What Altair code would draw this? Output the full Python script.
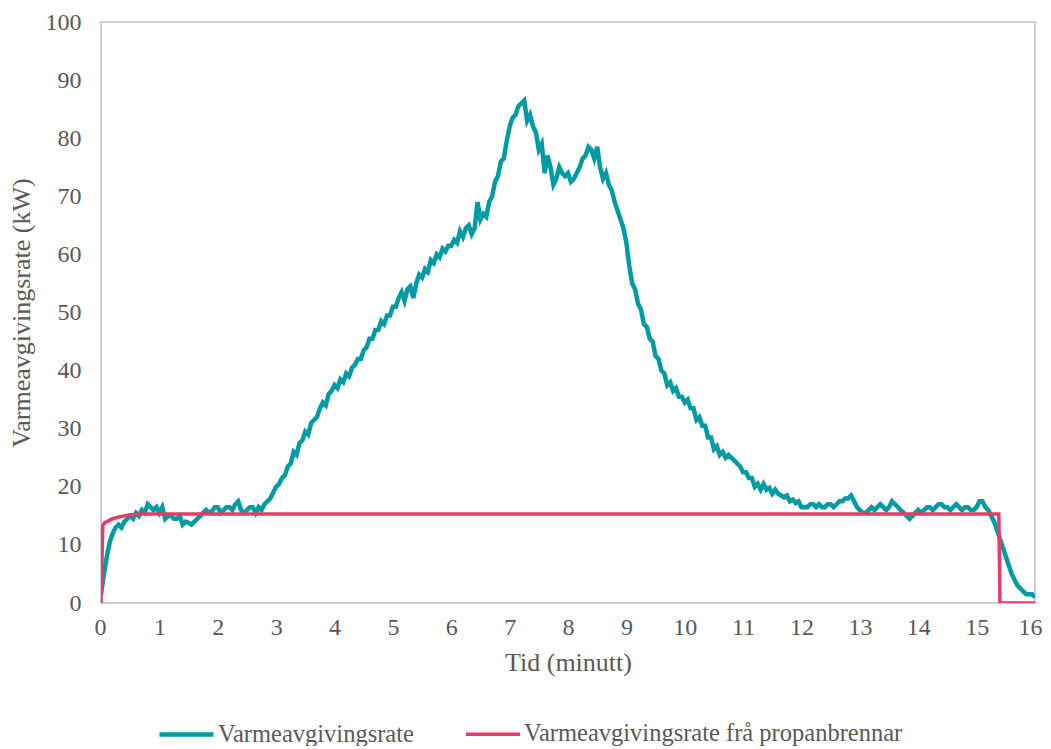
import altair as alt
import numpy as np
import pandas as pd

# Varmeavgivingsrate, avlest kvart 0.05 minutt (0.00 - 16.00)
tid_hrr = np.round(np.arange(0, 16.001, 0.05), 2)
hrr = [
    1.5, 5, 8, 10.5, 12, 13, 13.5, 13, 14, 14.5, 15, 14.5, 15.5, 15, 16, 15.5, 17, 16.5, 16, 16.5,
    15.5, 16.5, 14.5, 15, 15, 14.5, 14.5, 15, 13.5, 14, 13.8, 13.5, 14, 14.5, 15, 15.5, 16, 15.5, 15.8, 16.5,
    16.5, 15.5, 16, 16.5, 16.5, 16, 17, 17.5, 16, 15.5, 16, 16.5, 16.5, 15.5, 16.5, 16, 17, 17.5, 18, 19,
    20, 20.5, 21.5, 22, 23.5, 24, 26, 25.5, 27.5, 28, 29.5, 29, 31, 31.5, 32, 33.5, 34.5, 34, 36, 36.5,
    37.5, 37, 38.5, 38, 39.5, 39, 40.5, 41, 42, 42, 43.5, 44, 45.5, 45.5, 47, 47, 48.5, 48, 49.5, 49.5,
    51, 51, 52.5, 53.5, 52, 54, 54.5, 52.5, 55, 56.5, 56, 57.5, 57, 59, 58.5, 60, 59.5, 61, 60.5, 61.5,
    61.5, 62.5, 62, 64, 63, 64.5, 65, 63.5, 64.5, 69, 66, 67, 66.5, 69, 70, 72.5, 73.5, 76, 76.5, 79.5,
    82, 83.5, 84, 85.5, 86, 86.5, 83, 84, 82, 81, 78, 79, 74, 77, 75, 72, 73, 75, 74, 73.5,
    74, 72.5, 73, 74, 75, 76.5, 77, 78.5, 78, 76.5, 78.5, 75, 73, 74, 72, 71, 69, 67.5, 66, 64.5,
    62, 58, 55, 54, 51.5, 50.5, 48, 47.5, 45.5, 45, 42.5, 42, 40, 39.5, 37.5, 38, 36.5, 37, 35.5, 35.5,
    34.5, 35, 33.5, 33.5, 31.5, 32, 30.5, 30.5, 28.5, 28.5, 26.5, 27, 25.5, 26, 25, 25.5, 25, 24.5, 24, 23.5,
    22.5, 22.5, 21.5, 21.5, 20, 20.5, 19.5, 20.5, 19.5, 19.8, 18.8, 19.5, 18.8, 18.5, 18.2, 18.5, 17.5, 17.8, 17.2, 17.5,
    16.5, 16.5, 16.5, 17, 17, 16.5, 17, 16.5, 16.5, 17, 17, 16.5, 17, 17.5, 17.5, 18, 18, 18.5, 17.5, 16.5,
    16, 15.5, 15.5, 16, 16.5, 16, 16.5, 17, 16.5, 16, 16.5, 17.5, 17, 16.5, 16, 15.5, 15, 14.5, 15, 15.5,
    16, 15.5, 16, 16.5, 16.5, 16, 16.5, 17, 17, 16.5, 16.5, 16, 16.5, 17, 16.5, 16, 16.5, 16.5, 16, 16,
    16.5, 17.5, 17.5, 16.5, 16, 15, 14, 12.5, 11, 9.5, 8, 6.5, 5, 4, 3, 2.5, 2, 1.5, 1.5, 1.5,
    1,
]

# Varmeavgivingsrate frå propanbrennar
tid_brennar = [0, 0.03, 0.06, 0.1, 0.2, 0.3, 0.4, 0.5, 0.7, 1.0, 15.38, 15.4, 16]
brennar = [0, 13.3, 13.8, 14.0, 14.5, 14.8, 15.0, 15.2, 15.3, 15.3, 15.3, 0, 0]

serie_a = "Varmeavgivingsrate"
serie_b = "Varmeavgivingsrate frå propanbrennar"

df = pd.concat([
    pd.DataFrame({"Tid": tid_hrr, "Verdi": hrr, "Serie": serie_a, "rekkje": 0}),
    pd.DataFrame({"Tid": tid_brennar, "Verdi": brennar, "Serie": serie_b, "rekkje": 1}),
])

font = "Liberation Serif"
grey = "#595959"

chart = alt.Chart(df).mark_line(clip=True).encode(
    x=alt.X("Tid:Q", scale=alt.Scale(domain=[0, 16], nice=False),
            axis=alt.Axis(title="Tid (minutt)", values=list(range(0, 17)), format="d",
                          labelPadding=12, titlePadding=10,
                          labelFlush=True, labelFlushOffset=7)),
    y=alt.Y("Verdi:Q", scale=alt.Scale(domain=[0, 100], nice=False),
            axis=alt.Axis(title="Varmeavgivingsrate (kW)", values=list(range(0, 101, 10)),
                          labelPadding=20, titlePadding=11, labelFlush=False)),
    color=alt.Color("Serie:N",
                    scale=alt.Scale(domain=[serie_a, serie_b], range=["#009BA3", "#E63C65"]),
                    legend=alt.Legend(title=None, orient="none", direction="horizontal",
                                      legendX=56, legendY=683, columnPadding=45,
                                      symbolType="stroke", symbolSize=2916,
                                      symbolStrokeWidth=4, labelOffset=2, padding=0)),
    strokeWidth=alt.StrokeWidth("Serie:N",
                                scale=alt.Scale(domain=[serie_a, serie_b], range=[4.5, 3.5]),
                                legend=None),
    order="rekkje:Q",
    detail="Serie:N",
).properties(
    width=934, height=581,
    padding={"left": 0, "top": 2, "right": 0, "bottom": 0}
).configure_view(
    stroke="#BFBFBF", strokeWidth=1.5
).configure_axis(
    grid=False, ticks=False, domain=False,
    labelFont=font, titleFont=font, labelFontSize=24, titleFontSize=26,
    labelColor=grey, titleColor=grey, titleFontWeight="normal"
).configure_legend(
    labelFont=font, labelFontSize=24.5, labelColor=grey, labelLimit=0
)

chart.save("out.html", embed_options={"renderer": "svg", "actions": False})
